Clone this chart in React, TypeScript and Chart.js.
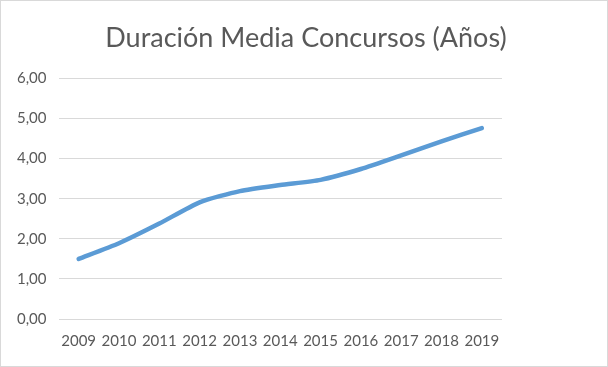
import React, { useEffect, useRef } from "react";
import { Chart, registerables } from "chart.js";

Chart.register(...registerables);

const TITLE = "Duración Media Concursos (Años)";
const YEARS = ["2009", "2010", "2011", "2012", "2013", "2014", "2015", "2016", "2017", "2018", "2019"];
const DURACION = [1.5, 1.89, 2.38, 2.91, 3.19, 3.34, 3.47, 3.74, 4.08, 4.43, 4.76];

export default function App() {
  const ref = useRef<HTMLCanvasElement | null>(null);

  useEffect(() => {
    document.body.style.margin = "0";
    const ctx = ref.current!;
    const chart = new Chart(ctx, {
      type: "line",
      data: {
        labels: YEARS,
        datasets: [
          {
            label: TITLE,
            data: DURACION,
            borderColor: "#5B9BD5",
            backgroundColor: "#5B9BD5",
            borderWidth: 4.5,
            pointRadius: 0,
            tension: 0.2,
            borderCapStyle: "round",
            borderJoinStyle: "round",
            yAxisID: "y",
          },
        ],
      },
      options: {
        responsive: false,
        animation: false,
        layout: { padding: { left: 4, right: 0, top: 15, bottom: 11 } },
        plugins: {
          legend: { display: false },
          tooltip: { enabled: false },
          title: {
            display: true,
            text: TITLE,
            color: "#595959",
            font: { family: "Lato, sans-serif", size: 27, weight: "normal" },
            padding: { top: 6, bottom: 24 },
          },
        },
        scales: {
          x: {
            offset: true,
            grid: { display: false },
            border: { display: false },
            ticks: {
              color: "#595959",
              font: { family: "Lato, sans-serif", size: 15 },
              padding: 5,
              maxRotation: 0,
              autoSkip: false,
            },
          },
          y: {
            min: 0,
            max: 6,
            border: { display: false },
            grid: { color: "#D9D9D9", lineWidth: 1, drawTicks: false },
            ticks: {
              stepSize: 1,
              color: "#595959",
              font: { family: "Lato, sans-serif", size: 15 },
              padding: 12,
              callback: (v: any) => Number(v).toFixed(2).replace(".", ","),
            },
          },
          yR: {
            position: "right",
            min: 0,
            max: 6,
            border: { display: false },
            grid: { display: false },
            ticks: { display: false },
            afterFit: (s: any) => {
              s.width = 105;
            },
          },
        },
      },
    });
    return () => chart.destroy();
  }, []);

  return (
    <div style={{ width: 608, height: 367, boxSizing: "border-box", border: "1px solid #D9D9D9", background: "#fff" }}>
      <canvas ref={ref} width={606} height={365} style={{ display: "block" }} />
    </div>
  );
}
